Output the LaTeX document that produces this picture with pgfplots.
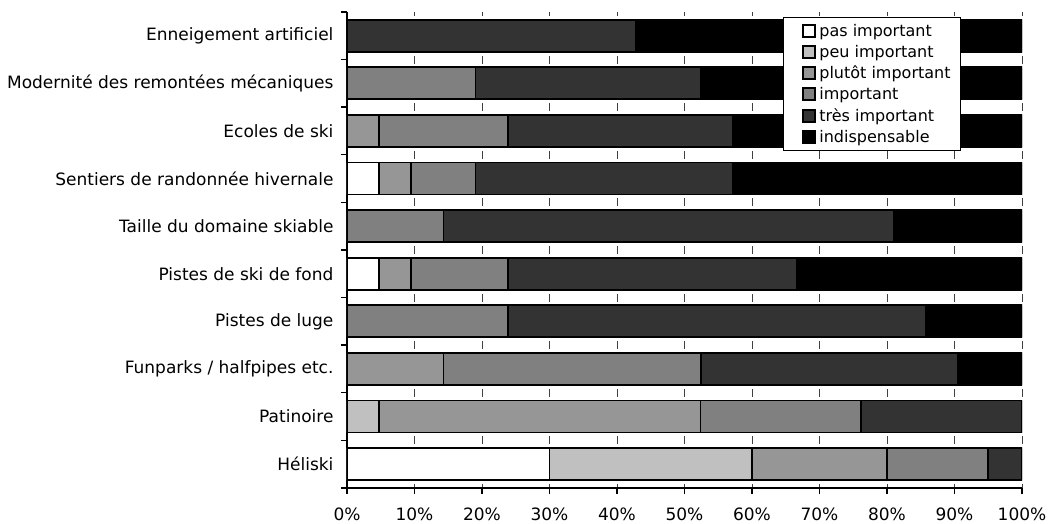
\documentclass[border=0pt]{standalone}
\usepackage{fontspec}
\setmainfont{DejaVu Sans}
\usepackage{pgfplots}
\pgfplotsset{compat=1.18}
\usepackage{pgfplotstable}

\definecolor{cPeu}{HTML}{C0C0C0}
\definecolor{cPlut}{HTML}{969696}
\definecolor{cImp}{HTML}{808080}
\definecolor{cTres}{HTML}{333333}
\definecolor{cInd}{HTML}{000000}

\pgfplotstableread{
y pas peu plut imp tres ind
0 30 30 20 15 5 0
1 0 4.76 47.62 23.81 23.81 0
2 0 0 14.29 38.10 38.10 9.52
3 0 0 0 23.81 61.90 14.29
4 4.76 0 4.76 14.29 42.86 33.33
5 0 0 0 14.29 66.67 19.05
6 4.76 0 4.76 9.52 38.10 42.86
7 0 0 4.76 19.05 33.33 42.86
8 0 0 0 19.05 33.33 47.62
9 0 0 0 0 42.86 57.14
}\data

\pgfplotsset{
  myleg/.style={legend image code/.code={%
    \path[draw=none, fill=none] (0pt,-6pt) rectangle (26pt,6pt);
    \draw[##1, line width=2pt] (12pt,-6pt) rectangle (24pt,6pt);}},
  segs/.style={draw=black, line width=1.8pt, myleg},
}

\begin{document}
\begin{tikzpicture}[font=\fontsize{17}{20}\selectfont]
\useasboundingbox (-347pt,-36pt) rectangle (702pt,488pt);
\begin{axis}[
  at={(0pt,0pt)}, anchor=south west,
  scale only axis, width=675pt, height=476pt,
  xbar stacked, bar width=32pt,
  xmin=0, xmax=100, ymin=-0.5, ymax=9.5,
  axis x line*=bottom, axis y line*=left,
  axis line style={line width=1.6pt},
  xtick={0,10,...,100},
  xticklabels={0\%,10\%,20\%,30\%,40\%,50\%,60\%,70\%,80\%,90\%,100\%},
  xticklabel style={yshift=-10pt},
  ytick={-0.5,0.5,...,9.5},
  yticklabels={},
  extra y ticks={0,1,2,3,4,5,6,7,8,9},
  extra y tick labels={H\'eliski,Patinoire,Funparks / halfpipes etc.,Pistes de luge,Pistes de ski de fond,Taille du domaine skiable,Sentiers de randonn\'ee hivernale,Ecoles de ski,Modernit\'e des remont\'ees m\'ecaniques,Enneigement artificiel},
  extra y tick style={major tick length=0pt, tick style={draw=none}, yticklabel style={xshift=-10pt}},
  tick align=outside,
  major tick length=6pt,
  tick style={black, line width=1.4pt},
  xmajorgrids,
  major x grid style={black!75, line width=0.8pt, dash pattern=on 4pt off 39.6pt on 4pt off 0pt},
  legend style={at={(rel axis cs:0.6459,0.9895)}, anchor=north west,
    draw=black, line width=0.8pt, fill=white,
    font=\fontsize{16}{19}\selectfont,
    inner xsep=8pt, inner ysep=5pt,
    row sep=3.2pt, cells={anchor=west}},
  legend cell align=left,
]
\addplot[segs, fill=white] table[x=pas, y=y]{\data};
\addplot[segs, fill=cPeu] table[x=peu, y=y]{\data};
\addplot[segs, fill=cPlut] table[x=plut, y=y]{\data};
\addplot[segs, fill=cImp] table[x=imp, y=y]{\data};
\addplot[segs, fill=cTres] table[x=tres, y=y]{\data};
\addplot[segs, fill=cInd] table[x=ind, y=y]{\data};
\legend{pas important,peu important,plutôt important,important,très important,indispensable}
\end{axis}
\end{tikzpicture}
\end{document}
